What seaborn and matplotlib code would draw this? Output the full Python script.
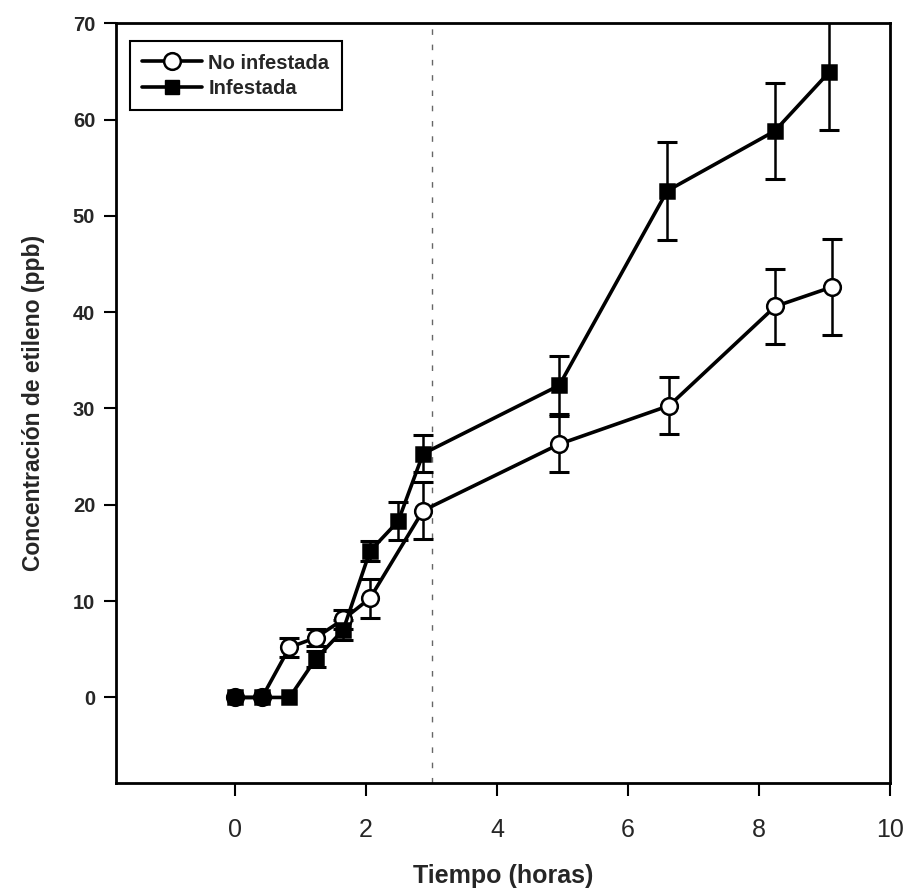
import numpy as np
import pandas as pd
import matplotlib
matplotlib.use("Agg")
import matplotlib.pyplot as plt
import seaborn as sns
from matplotlib.lines import Line2D

# Data
time_no = [0.0, 0.41, 0.83, 1.23, 1.65, 2.06, 2.87, 4.95, 6.63, 8.25, 9.11]
conc_no = [0.0, 0.0, 5.2, 6.2, 8.1, 10.3, 19.4, 26.3, 30.3, 40.6, 42.6]
err_no = [0.0, 0.0, 1.0, 0.9, 1.0, 2.0, 3.0, 2.9, 3.0, 3.9, 5.0]

time_inf = [0.0, 0.41, 0.83, 1.23, 1.65, 2.06, 2.49, 2.87, 4.95, 6.6, 8.24, 9.07]
conc_inf = [0.0, 0.0, 0.0, 4.0, 7.0, 15.2, 18.3, 25.3, 32.4, 52.6, 58.8, 64.9]
err_inf = [0.0, 0.0, 0.0, 0.8, 1.0, 1.0, 2.0, 1.9, 3.0, 5.1, 5.0, 6.0]

series_names = ["No infestada", "Infestada"]
x_ticks = [0, 2, 4, 6, 8, 10]
y_ticks = [0, 10, 20, 30, 40, 50, 60, 70]
x_label = "Tiempo (horas)"
y_label = "Concentración de etileno (ppb)"
cut_time = 3.0

sns.set_theme(style="white")
plt.rcParams['font.family'] = ['Liberation Sans', 'DejaVu Sans']

df = pd.concat([
    pd.DataFrame({"t": time_no, "c": conc_no, "e": err_no, "s": series_names[0]}),
    pd.DataFrame({"t": time_inf, "c": conc_inf, "e": err_inf, "s": series_names[1]}),
], ignore_index=True)

fig = plt.figure(figsize=(9.09, 8.92), dpi=100)
ax = fig.add_axes([0.1276, 0.122, 0.8514, 0.852])

ax.axvline(cut_time, color="#666666", lw=1.0, ls=(0, (4, 7)), zorder=1)

for name in series_names:
    sub = df[df["s"] == name]
    mask = sub["e"] > 0
    ax.errorbar(sub["t"][mask], sub["c"][mask], yerr=sub["e"][mask], fmt="none",
                ecolor="black", elinewidth=1.8, capsize=7, capthick=2.2, zorder=2)

sns.lineplot(data=df, x="t", y="c", hue="s", style="s",
             hue_order=series_names, style_order=series_names,
             palette=["black", "black"], markers={series_names[0]: "o", series_names[1]: "s"},
             dashes=False, lw=2.6, ax=ax, legend=False,
             markeredgecolor="black", markeredgewidth=1.8, markersize=11, estimator=None, sort=False)

for ln in ax.get_lines():
    if ln.get_marker() == "o":
        ln.set_markerfacecolor("white")
        ln.set_markersize(12)
        ln.set_zorder(3)
    elif ln.get_marker() == "s":
        ln.set_markerfacecolor("black")
        ln.set_markersize(10.5)
        ln.set_zorder(4)

ax.set_xlim(-1.82, 10.0)
ax.set_ylim(-8.9, 70.0)
ax.set_xticks(x_ticks)
ax.set_yticks(y_ticks)
ax.set_xticklabels([str(v) for v in x_ticks], fontsize=18)
ax.set_yticklabels([str(v) for v in y_ticks], fontsize=14.5, fontweight="bold")
ax.tick_params(axis="both", direction="out", length=9, width=1.5, color="black",
               bottom=True, left=True, top=False, right=False)
ax.tick_params(axis="x", pad=16)
ax.tick_params(axis="y", pad=6)
for sp in ax.spines.values():
    sp.set_visible(True)
    sp.set_color("black")
    sp.set_linewidth(2.0)

ax.set_xlabel(x_label, fontsize=18, fontweight="bold", labelpad=16)
ax.set_ylabel(y_label, fontsize=16.5, fontweight="bold", labelpad=20)

handles = [
    Line2D([], [], color="black", lw=2.6, marker="o", markerfacecolor="white",
           markeredgecolor="black", markeredgewidth=1.8, markersize=12),
    Line2D([], [], color="black", lw=2.6, marker="s", markerfacecolor="black",
           markeredgecolor="black", markersize=10),
]
leg = ax.legend(handles, series_names, loc="upper left", bbox_to_anchor=(0.018, 0.976),
                borderaxespad=0, frameon=True, fancybox=False, edgecolor="black", framealpha=1,
                prop={"weight": "bold", "size": 14.5}, handlelength=3.0,
                borderpad=0.6, labelspacing=0.3, handletextpad=0.3)
leg.get_frame().set_linewidth(1.5)

fig.savefig("out.png", dpi=100, facecolor="white")
